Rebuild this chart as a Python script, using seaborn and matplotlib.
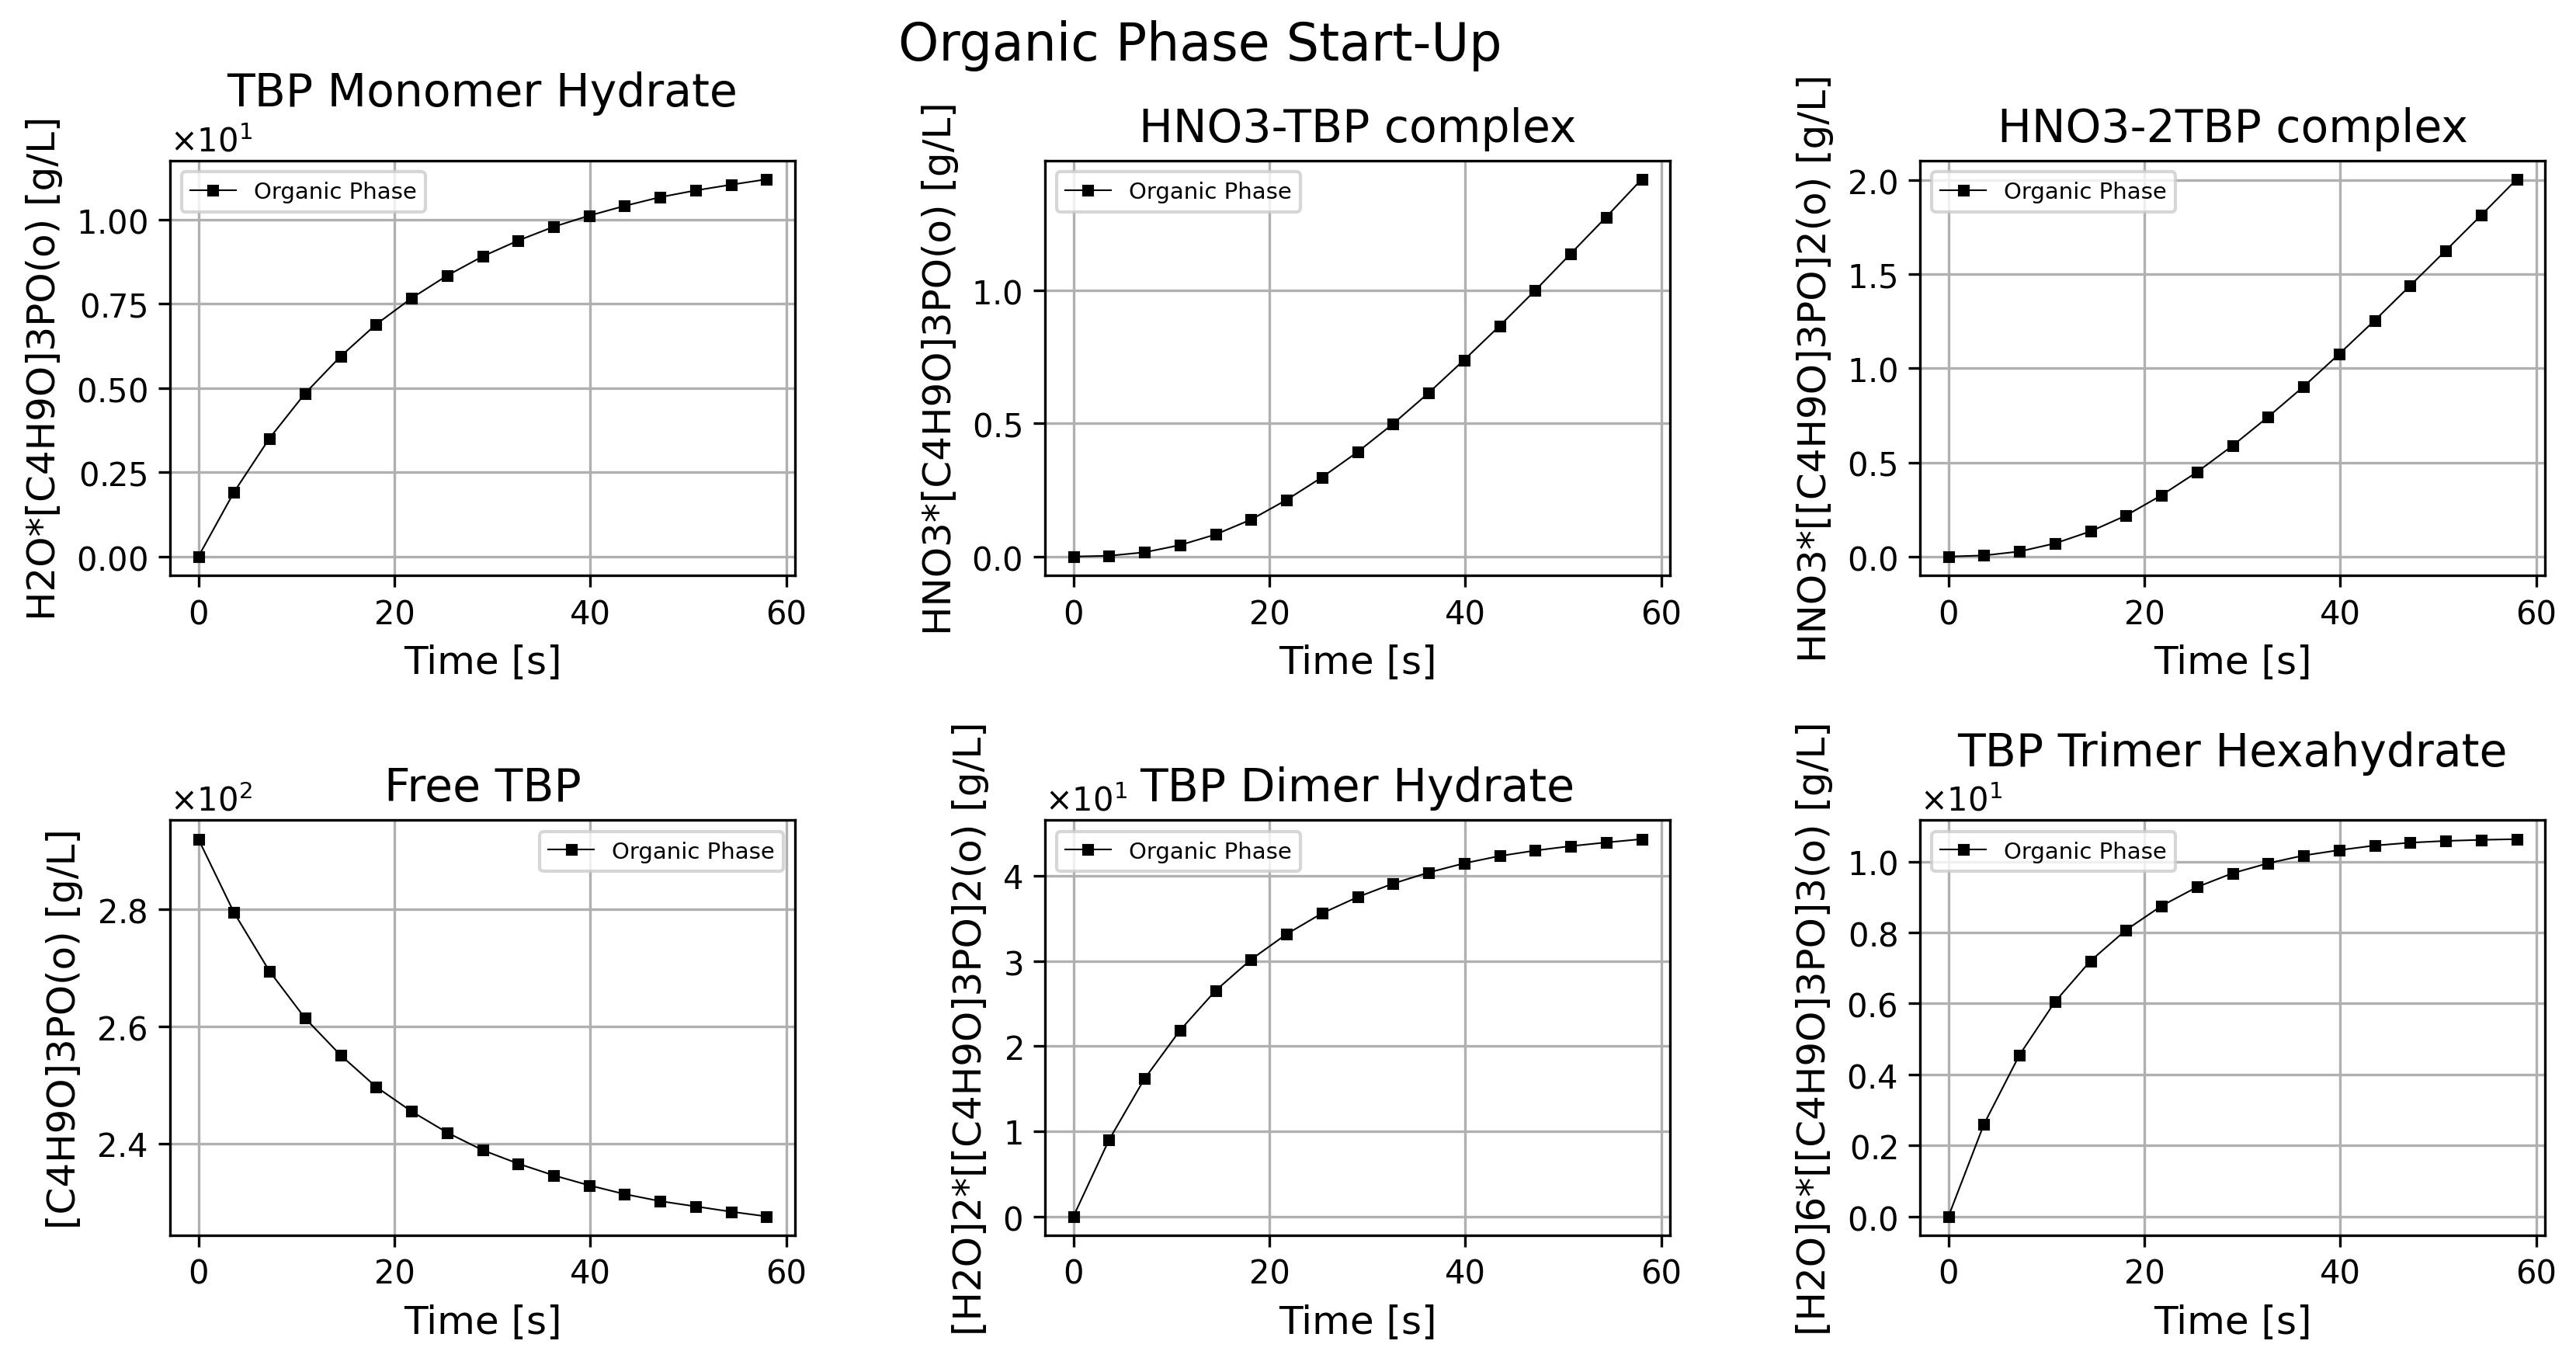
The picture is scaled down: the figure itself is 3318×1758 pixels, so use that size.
import pandas as pd
from matplotlib import pyplot as plt
import seaborn as sns

# time points [s]
time = [0, 3.625, 7.25, 10.875, 14.5, 18.125, 21.75, 25.375, 29.0,
        32.625, 36.25, 39.875, 43.5, 47.125, 50.75, 54.375, 58.0]

# concentrations [g/L]
monomer_hydrate = [0.0, 1.91, 3.51, 4.84, 5.94, 6.89, 7.67, 8.34, 8.91,
                   9.38, 9.79, 10.12, 10.41, 10.67, 10.87, 11.04, 11.20]
hno3_tbp = [0.0, 0.003, 0.016, 0.043, 0.083, 0.139, 0.213, 0.298, 0.393,
            0.499, 0.615, 0.739, 0.867, 1.000, 1.138, 1.276, 1.418]
hno3_2tbp = [0.0, 0.006, 0.027, 0.070, 0.134, 0.218, 0.326, 0.449, 0.589,
             0.742, 0.903, 1.076, 1.254, 1.439, 1.625, 1.813, 2.004]
free_tbp = [291.9, 279.4, 269.4, 261.4, 255.1, 249.7, 245.5, 241.9, 238.9,
            236.6, 234.6, 232.9, 231.4, 230.2, 229.3, 228.4, 227.6]
dimer_hydrate = [0.0, 8.97, 16.16, 21.85, 26.51, 30.17, 33.15, 35.60, 37.50,
                 39.09, 40.39, 41.47, 42.33, 42.97, 43.49, 43.92, 44.31]
trimer_hexahydrate = [0.0, 2.60, 4.55, 6.05, 7.20, 8.07, 8.75, 9.28, 9.67,
                      9.95, 10.17, 10.32, 10.45, 10.53, 10.58, 10.61, 10.63]

titles = ['TBP Monomer Hydrate', 'HNO3-TBP complex', 'HNO3-2TBP complex',
          'Free TBP', 'TBP Dimer Hydrate', 'TBP Trimer Hexahydrate']
ylabels = ['H2O*[C4H9O]3PO(o) [g/L]', 'HNO3*[C4H9O]3PO(o) [g/L]',
           'HNO3*[[C4H9O]3PO]2(o) [g/L]', '[C4H9O]3PO(o) [g/L]',
           '[H2O]2*[[C4H9O]3PO]2(o) [g/L]', '[H2O]6*[[C4H9O]3PO]3(o) [g/L]']
series = [monomer_hydrate, hno3_tbp, hno3_2tbp, free_tbp, dimer_hydrate, trimer_hexahydrate]

plt.rcParams['font.family'] = ['DejaVu Sans']

fig, axes = plt.subplots(2, 3, figsize=(11.06, 5.863), dpi=300)
fig.suptitle('Organic Phase Start-Up', fontsize=16, x=0.466, y=0.985)

for ax, title, ylab, vals in zip(axes.flat, titles, ylabels, series):
    df = pd.DataFrame({'Time [s]': time, 'conc': vals})
    sns.lineplot(data=df, x='Time [s]', y='conc', ax=ax, color='black',
                 marker='s', markersize=3, linewidth=0.5, markeredgecolor='black',
                 label='Organic Phase')
    ax.set_title(title, fontsize=14)
    ax.set_xlabel('Time [s]', fontsize=12)
    ax.set_ylabel(ylab, fontsize=12)
    ax.grid(True)
    ax.set_xticks([0, 20, 40, 60])
    ax.ticklabel_format(axis='y', style='sci', scilimits=(0, 0), useMathText=True)
    ax.legend(loc='best', fontsize=7)

plt.subplots_adjust(left=0.066, right=0.988, top=0.882, bottom=0.095,
                    wspace=0.40, hspace=0.59)
plt.savefig('out.png', dpi=300)
